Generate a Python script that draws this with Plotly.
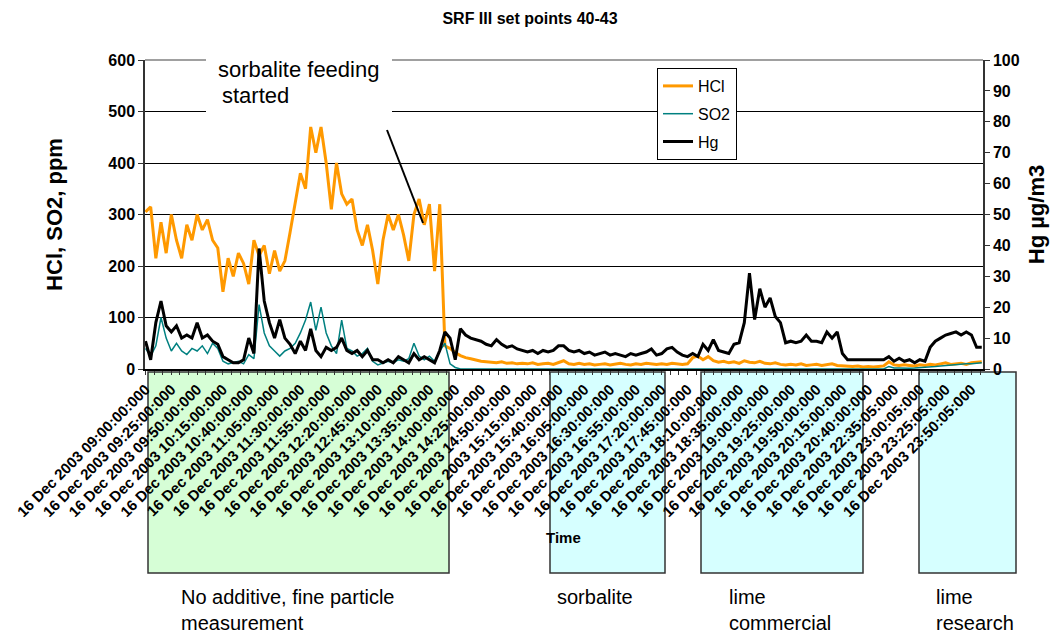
import plotly.graph_objects as go

# ---------------- data ----------------
# x axis is an Excel-style category axis; one sample every 5 categories,
# a tick label every 25 categories.
SAMPLE_STEP = 5

tick_labels = [
    "16 Dec 2003 09:00:00:000", "16 Dec 2003 09:25:00:000", "16 Dec 2003 09:50:00:000",
    "16 Dec 2003 10:15:00:000", "16 Dec 2003 10:40:00:000", "16 Dec 2003 11:05:00:000",
    "16 Dec 2003 11:30:00:000", "16 Dec 2003 11:55:00:000", "16 Dec 2003 12:20:00:000",
    "16 Dec 2003 12:45:00:000", "16 Dec 2003 13:10:00:000", "16 Dec 2003 13:35:00:000",
    "16 Dec 2003 14:00:00:000", "16 Dec 2003 14:25:00:000", "16 Dec 2003 14:50:00:000",
    "16 Dec 2003 15:15:00:000", "16 Dec 2003 15:40:00:000", "16 Dec 2003 16:05:00:000",
    "16 Dec 2003 16:30:00:000", "16 Dec 2003 16:55:00:000", "16 Dec 2003 17:20:00:000",
    "16 Dec 2003 17:45:00:000", "16 Dec 2003 18:10:00:000", "16 Dec 2003 18:35:00:000",
    "16 Dec 2003 19:00:00:000", "16 Dec 2003 19:25:00:000", "16 Dec 2003 19:50:00:000",
    "16 Dec 2003 20:15:00:000", "16 Dec 2003 20:40:00:000", "16 Dec 2003 22:35:05:000",
    "16 Dec 2003 23:00:05:000", "16 Dec 2003 23:25:05:000", "16 Dec 2003 23:50:05:000",
]
LABEL_EVERY = 25

hcl_ppm = [
    305, 315, 215, 285, 225, 300, 250, 215, 280, 250,
    300, 270, 290, 250, 235, 150, 215, 180, 225, 205,
    165, 250, 220, 240, 185, 230, 190, 210, 265, 320,
    380, 350, 470, 420, 470, 400, 310, 400, 340, 320,
    330, 270, 240, 280, 230, 165, 250, 300, 270, 300,
    260, 210, 300, 330, 280, 320, 190, 320, 45, 40,
    32, 26, 22, 20, 17, 15, 14, 13, 12, 14,
    11, 12, 10, 11, 10, 12, 9, 10, 11, 9,
    12, 16, 10, 9, 11, 9, 10, 8, 9, 10,
    8, 9, 11, 9, 8, 10, 9, 11, 10, 9,
    10, 9, 11, 10, 9, 10, 22, 25, 18, 24,
    16, 13, 15, 12, 14, 11, 16, 13, 12, 15,
    11, 10, 12, 9, 8, 9, 8, 10, 7, 8,
    9, 7, 8, 10, 7, 6, 5, 5, 6, 4,
    5, 4, 5, 6, 14, 8, 7, 8, 7, 6,
    8, 7, 9, 8, 10, 12, 9, 10, 11, 9,
    12, 13, 14,
]

so2_ppm = [
    40, 25, 45, 100, 60, 35, 50, 35, 28, 40,
    35, 45, 30, 50, 40, 15, 10, 12, 15, 10,
    28, 20, 125, 70, 45, 35, 25, 35, 40, 50,
    70, 95, 130, 75, 120, 70, 45, 30, 95, 40,
    35, 25, 30, 40, 15, 8, 12, 15, 12, 18,
    15, 20, 50, 25, 18, 25, 15, 35, 50, 10,
    3, 0, 0, 0, 0, 0, 0, 0, 0, 0,
    0, 0, 0, 0, 0, 0, 0, 0, 0, 0,
    0, 0, 0, 0, 0, 0, 0, 0, 0, 0,
    0, 0, 0, 0, 0, 0, 0, 0, 0, 0,
    0, 0, 0, 0, 0, 0, 0, 0, 0, 0,
    0, 0, 0, 0, 0, 0, 0, 0, 0, 0,
    0, 0, 0, 0, 0, 0, 0, 0, 0, 0,
    0, 0, 0, 0, 0, 0, 0, 0, 0, 0,
    0, 0, 0, 0, 5, 2, 2, 1.5, 1.5, 2,
    2.5, 3, 4, 5, 6, 7, 7, 8, 9, 10,
    10, 11, 12,
]

hg_ugm3 = [
    9, 3, 15, 22, 14, 12, 14, 10, 11, 10,
    15, 10, 11, 9, 8, 4, 3, 2, 2, 3,
    10, 5, 39, 22, 15, 10, 16, 10, 8, 5,
    9, 6, 13, 6, 4, 7, 6, 7, 10, 6,
    5, 6, 4, 6, 3, 3, 2, 3, 2, 4,
    3, 2, 5, 3, 4, 3, 2, 6, 12, 10,
    3, 13, 11, 10, 9.5, 9, 8, 7.5, 9.5, 8,
    7, 7.5, 6.5, 6, 5.5, 6, 5, 6, 5.5, 6,
    7.5, 7.5, 6, 5.5, 6, 5, 5.5, 4.5, 5, 5.5,
    4.5, 5, 4.5, 4, 5, 4.5, 5, 5.5, 6.5, 4.5,
    5, 6.5, 7, 5.5, 4.5, 4, 5, 4, 8, 6,
    9.5, 6, 5.5, 5, 8, 8.5, 15, 31, 16, 26,
    20, 23, 17, 15, 8.5, 9, 8.5, 9, 11, 9,
    9, 8.5, 12, 10, 12, 5, 3, 3, 3, 3,
    3, 3, 3, 3, 4, 2.5, 3.5, 2.5, 3, 2,
    3, 2.5, 7, 9, 10, 11, 11.5, 12, 11, 12,
    11, 7, 7,
]

period_labels = [
    ["No additive, fine particle", "measurement"],
    ["sorbalite"],
    ["lime", "commercial"],
    ["lime", "research"],
]

sample_index = [i * SAMPLE_STEP for i in range(len(hcl_ppm))]
tick_index = [i * LABEL_EVERY for i in range(len(tick_labels))]

# ---------------- figure ----------------
FONT = "Liberation Sans, Arial, sans-serif"
W, H = 1054, 639
L, R, T, B = 145, 983, 60, 369          # plot area in pixels
PW, PH = R - L, B - T


def px(xp):
    return (xp - L) / PW


def py(yp):
    return (B - yp) / PH


fig = go.Figure()
fig.add_trace(go.Scatter(x=sample_index, y=hcl_ppm, name="HCl", mode="lines",
                         line=dict(color="#FF9900", width=3), legendgroup="a"))
fig.add_trace(go.Scatter(x=sample_index, y=so2_ppm, name="SO2", mode="lines",
                         line=dict(color="#008080", width=1.5), legendgroup="b"))
fig.add_trace(go.Scatter(x=sample_index, y=hg_ugm3, name="Hg", mode="lines",
                         line=dict(color="black", width=3), yaxis="y2", legendgroup="c"))

shapes = []
# coloured period boxes below the axis
box_specs = [
    (148, 449, "#d6fed6"),
    (550, 665, "#d6ffff"),
    (701, 863, "#d6ffff"),
    (919, 1016, "#d6ffff"),
]
for x0, x1, col in box_specs:
    shapes.append(dict(type="rect", xref="paper", yref="paper",
                       x0=px(x0), x1=px(x1), y0=py(372), y1=py(573),
                       fillcolor=col, line=dict(color="#333333", width=1.5),
                       layer="below"))
# grey plot-area top border
shapes.append(dict(type="line", xref="paper", yref="paper", x0=0, x1=1, y0=1, y1=1,
                   line=dict(color="#808080", width=1.5), layer="above"))
# white text box of the note
shapes.append(dict(type="rect", xref="paper", yref="paper",
                   x0=px(206), x1=px(392), y0=py(116), y1=py(52),
                   fillcolor="white", line=dict(width=0), layer="above"))
# pointer line of the note
shapes.append(dict(type="line", xref="paper", yref="paper",
                   x0=px(387), y0=py(130), x1=px(423), y1=py(223),
                   line=dict(color="black", width=2), layer="above"))

annotations = [
    dict(text="sorbalite feeding", x=px(216), y=py(70)),
    dict(text="started", x=px(220), y=py(96)),
]
for a in annotations:
    a.update(xref="paper", yref="paper", xanchor="left", yanchor="middle",
             showarrow=False, font=dict(size=22, family=FONT, color="black"))

annotations.append(dict(text="Time", x=px(563), y=py(537), xref="paper", yref="paper",
                        xanchor="center", yanchor="middle", showarrow=False,
                        font=dict(size=15, family=FONT, color="black", weight=700)))

# period captions below the boxes (one text block per period)
label_left = [180, 556, 728, 935]
for xl, lines in zip(label_left, period_labels):
    annotations.append(dict(text="<br>".join(lines), x=px(xl), y=py(585),
                            xref="paper", yref="paper", xanchor="left", yanchor="top",
                            align="left", showarrow=False, borderpad=0,
                            font=dict(size=20, family=FONT, color="black")))

fig.update_layout(
    width=W, height=H,
    margin=dict(l=L, r=W - R, t=T, b=H - B, autoexpand=False),
    paper_bgcolor="white", plot_bgcolor="white",
    font=dict(family=FONT, color="black"),
    title=dict(text="SRF III set points 40-43", x=530 / W, xref="container",
               xanchor="center", y=1 - 18 / H, yref="container", yanchor="middle",
               font=dict(size=16, family=FONT, weight=700, color="black")),
    showlegend=True,
    legend=dict(x=px(657), y=py(68), xanchor="left", yanchor="top",
                bgcolor="white", bordercolor="black", borderwidth=1,
                font=dict(size=16, family=FONT, color="black"),
                traceorder="grouped", tracegroupgap=4),
    xaxis=dict(range=[-0.5, 811.2], tickmode="array", tickvals=tick_index,
               ticktext=tick_labels, tickangle=-45,
               tickfont=dict(size=15, family=FONT, weight=700, color="black"),
               ticks="outside", ticklen=4, tickcolor="#333333",
               showline=True, linecolor="black", linewidth=1.5,
               showgrid=False, zeroline=False,
               minor=dict(tickmode="linear", tick0=0, dtick=LABEL_EVERY / 3,
                          ticks="outside", ticklen=4, tickcolor="#333333",
                          showgrid=False)),
    yaxis=dict(range=[0, 600], dtick=100,
               tickfont=dict(size=16, family=FONT, weight=700, color="black"),
               ticks="outside", ticklen=5, tickcolor="#333333",
               showline=True, linecolor="#333333", linewidth=1.5,
               gridcolor="black", gridwidth=1, zeroline=False,
               title=dict(text="HCl, SO2, ppm", standoff=40,
                          font=dict(size=22, family=FONT, weight=700, color="black"))),
    yaxis2=dict(range=[0, 100], dtick=10, overlaying="y", side="right", anchor="x",
                tickfont=dict(size=16, family=FONT, weight=700, color="black"),
                ticks="outside", ticklen=5, tickcolor="#333333",
                showline=True, linecolor="#333333", linewidth=1.5,
                showgrid=False, zeroline=False,
                title=dict(text="Hg µg/m3", standoff=10,
                           font=dict(size=22, family=FONT, weight=700, color="black"))),
    shapes=shapes,
    annotations=annotations,
)

fig.write_html("out.html", config={"displayModeBar": False},
               post_script="document.body.style.margin='0px';")
